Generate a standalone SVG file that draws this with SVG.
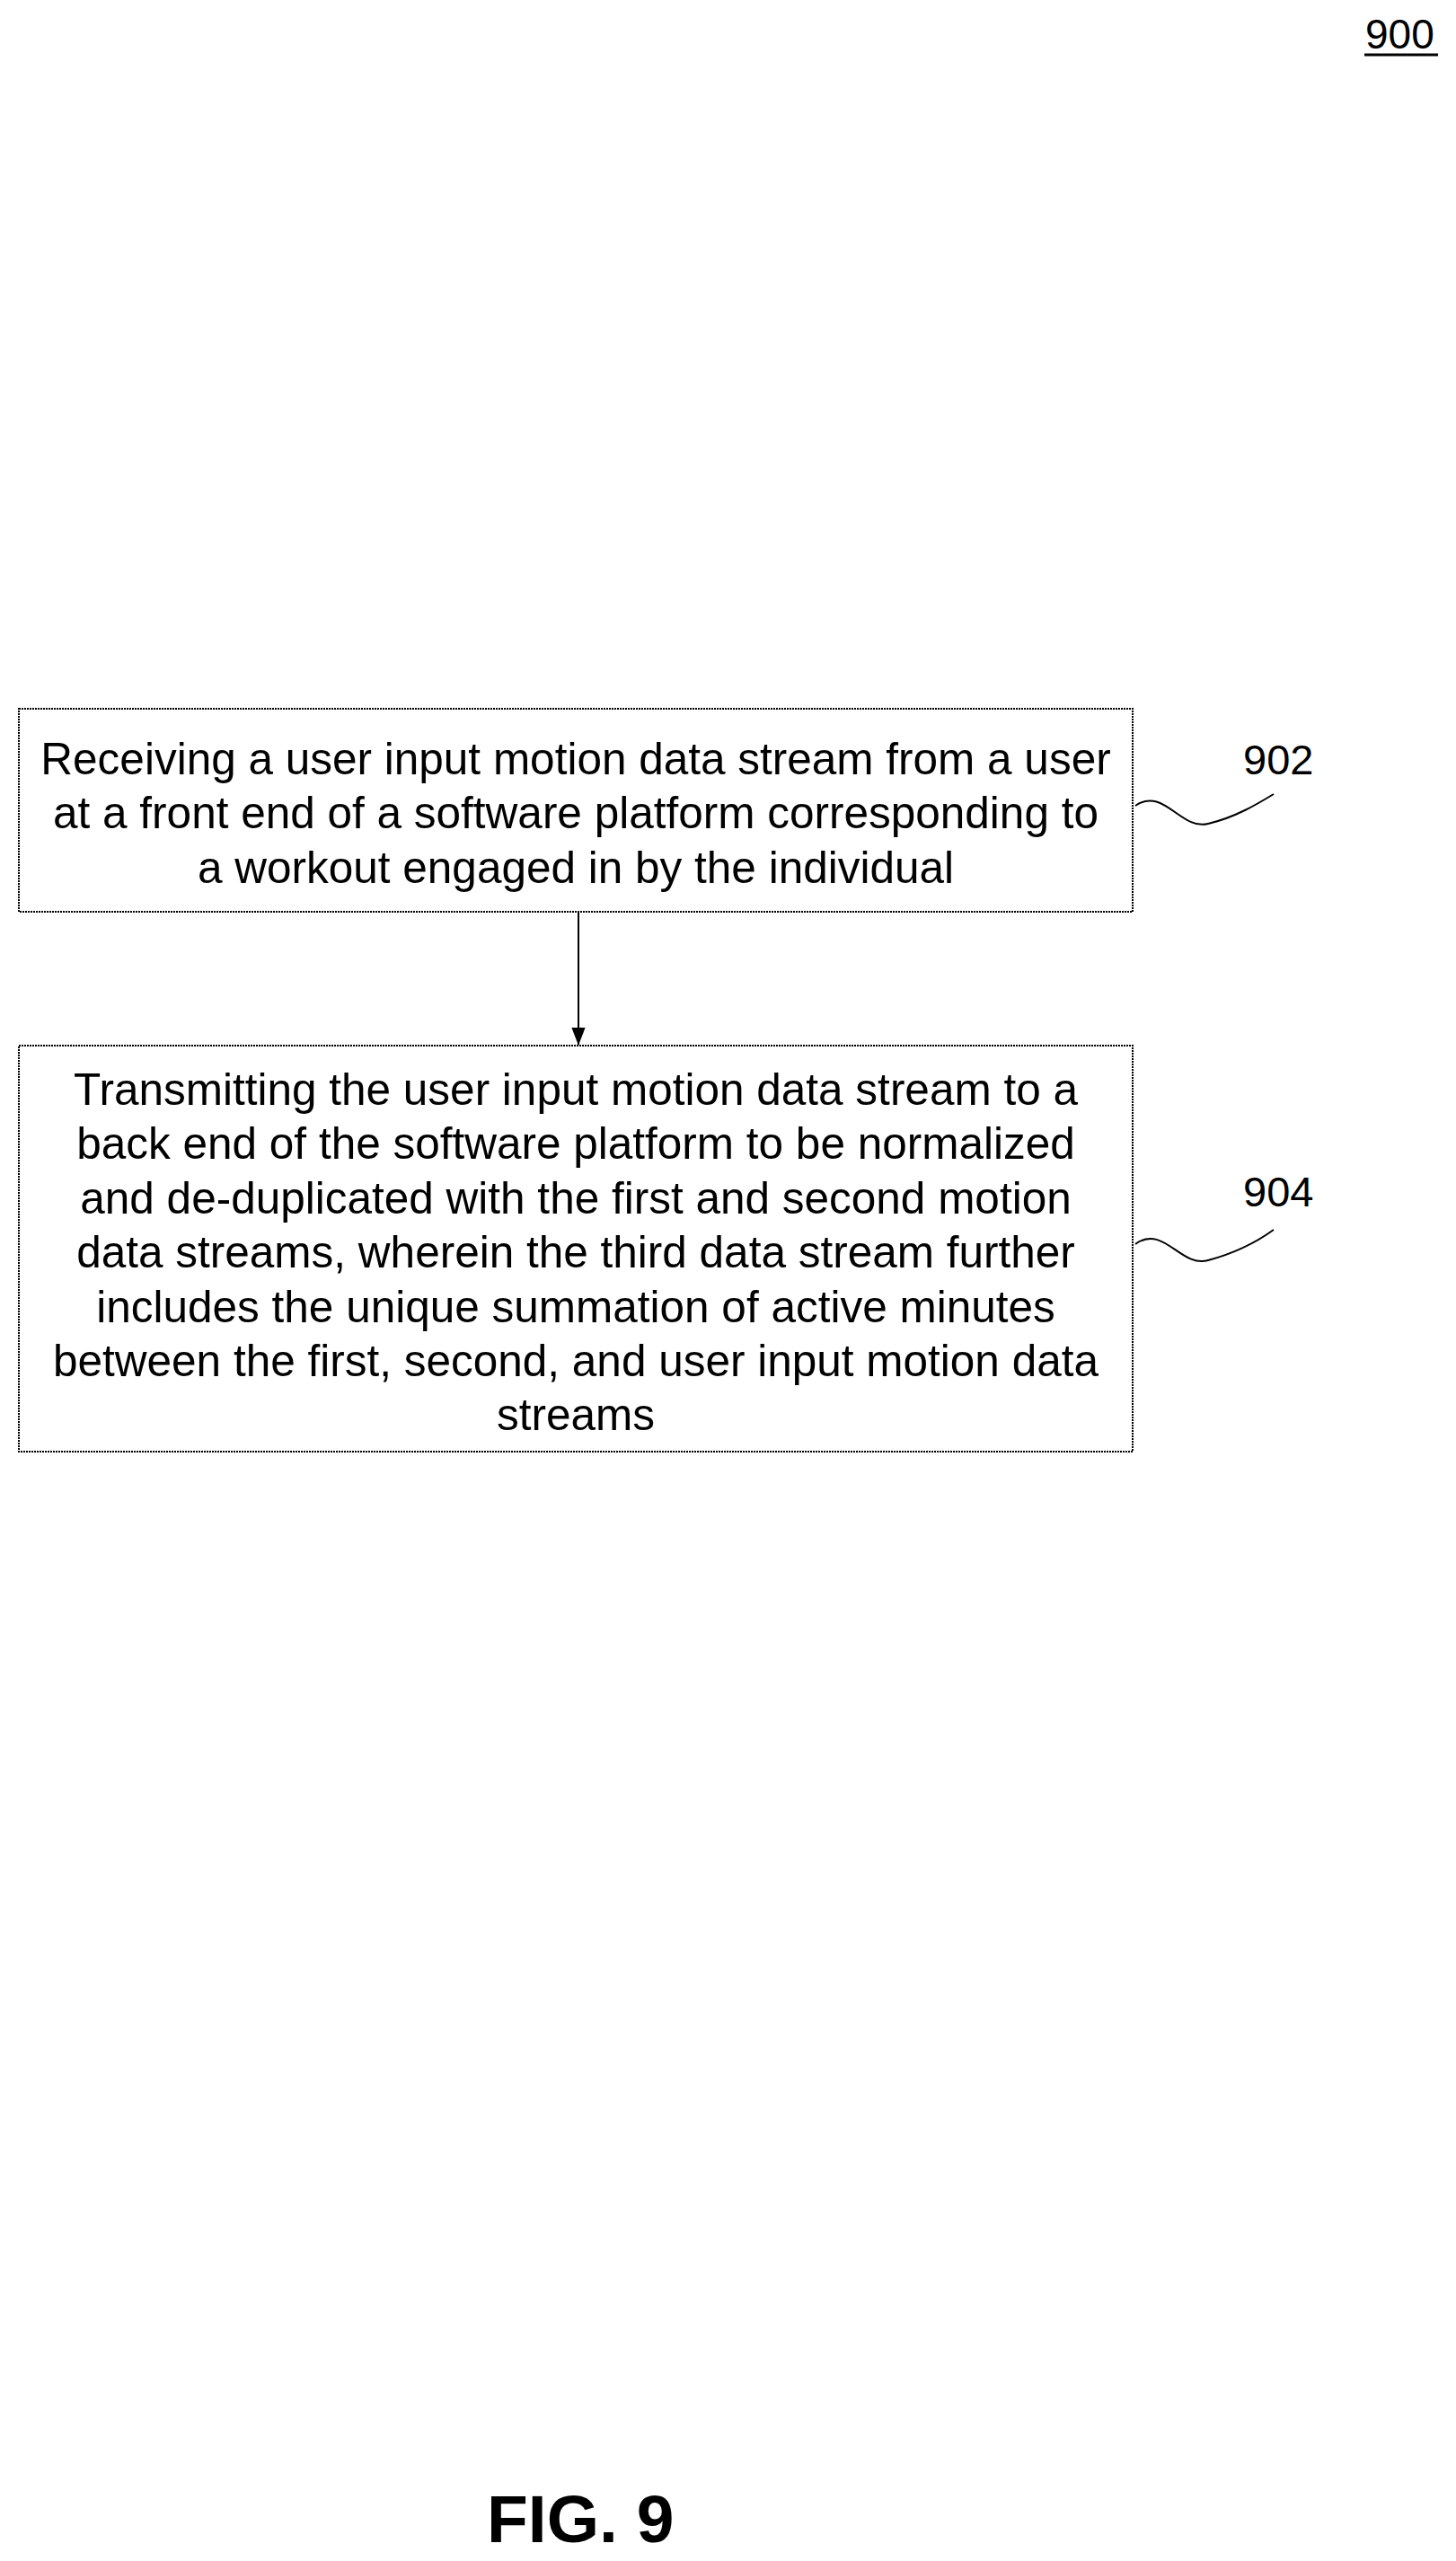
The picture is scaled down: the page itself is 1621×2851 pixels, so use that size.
<svg xmlns="http://www.w3.org/2000/svg" width="1621" height="2851" viewBox="0 0 1621 2851">
<style>
text{font-family:"Liberation Sans",Arial,sans-serif;fill:#000}
.b{fill:#fff;stroke:#000;stroke-width:2;stroke-dasharray:2 1}
.t{font-size:49.5px;text-anchor:middle}
.l{font-size:47px}
.w{fill:none;stroke:#000;stroke-width:2}
</style>
<defs><marker id="a" markerWidth="20" markerHeight="26" refX="25" refY="10" orient="auto" markerUnits="userSpaceOnUse" viewBox="0 0 26 20"><path d="M0,0L26,10L0,20Z"/></marker></defs>
<rect width="1621" height="2851" fill="#fff"/>
<g id="label900"><text x="1520" y="54" style="font-size:46px">900</text><line x1="1519" y1="61" x2="1601" y2="61" stroke="#000" stroke-width="3"/></g>
<g id="connectors"><line x1="644" y1="1015" x2="644" y2="1163" stroke="#000" stroke-width="2" marker-end="url(#a)"/></g>
<g id="n902"><rect class="b" x="21" y="789" width="1240" height="226"/>
<text class="t" x="641" y="862">Receiving a user input motion data stream from a user</text>
<text class="t" x="641" y="922">at a front end of a software platform corresponding to</text>
<text class="t" x="641" y="983">a workout engaged in by the individual</text>
<path class="w" d="M1264,897C1295,875 1315,925 1345,917C1375,910 1400,895 1418,884"/>
<text class="l" x="1384" y="862">902</text></g>
<g id="n904"><rect class="b" x="21" y="1164" width="1240" height="452"/>
<text class="t" x="641" y="1230">Transmitting the user input motion data stream to a</text>
<text class="t" x="641" y="1290">back end of the software platform to be normalized</text>
<text class="t" x="641" y="1351">and de-duplicated with the first and second motion</text>
<text class="t" x="641" y="1411">data streams, wherein the third data stream further</text>
<text class="t" x="641" y="1472">includes the unique summation of active minutes</text>
<text class="t" x="641" y="1532">between the first, second, and user input motion data</text>
<text class="t" x="641" y="1592">streams</text>
<path class="w" d="M1264,1385C1295,1362 1315,1412 1345,1403C1375,1395 1400,1382 1418,1369"/>
<text class="l" x="1384" y="1343">904</text></g>
<text x="542" y="2830" style="font-size:75px;font-weight:bold">FIG. 9</text>
</svg>
